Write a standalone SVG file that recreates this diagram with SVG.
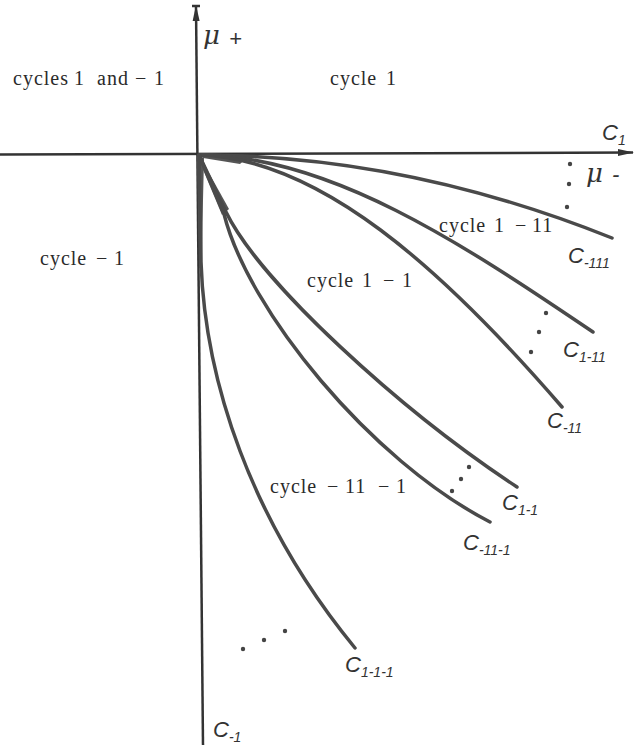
<svg xmlns="http://www.w3.org/2000/svg" width="635" height="745" viewBox="0 0 635 745">
<defs>
<marker id="arr" markerWidth="16" markerHeight="8" refX="15" refY="4" orient="auto" markerUnits="userSpaceOnUse"><path d="M0,0.5 L16,4 L0,7.5 Z" fill="#333"/></marker>
<style>
.ax{stroke:#333;stroke-width:2.5;fill:none}
.cv{stroke:#4a4a4a;stroke-width:3.5;fill:none;stroke-linecap:round;stroke-linejoin:round}
.wd{fill:#555}
.t{font-family:"Liberation Serif",serif;font-size:20px;fill:#2a2a2a;letter-spacing:1px}
.h{font-family:"Liberation Sans",sans-serif;font-style:italic;font-size:22px;fill:#333}
.s{font-size:14px}
.mu{font-family:"DejaVu Serif","Liberation Serif",serif;font-style:italic;font-size:26px;fill:#333}
.dot{fill:#444}
</style>
</defs>
<rect width="635" height="745" fill="#fff"/>
<g id="axes">
<line class="ax" x1="0" y1="154.5" x2="633" y2="152.5" marker-end="url(#arr)"/>
<line class="ax" x1="203" y1="745" x2="196" y2="6" marker-end="url(#arr)"/>
<line class="ax" x1="192" y1="6" x2="200" y2="6" stroke-width="1.5"/>
</g>
<g id="connectors">
<polygon class="wd" points="199,153 250,155 240,164 203,158"/>
<polygon class="wd" points="199,155 229,209 222,215 199,160"/>
<polygon class="wd" points="197,155 204,158 203,200 202,268 199,268"/>
<path class="cv" d="M199,155 Q405,155 612,238"/>
<path class="cv" d="M199,155 C329,155 463,244 593,332"/>
<path class="cv" d="M199,155 C319,158 442,268 562,407"/>
<path class="cv" d="M199,155 L226,212 C260,282 400,410 517,487"/>
<path class="cv" d="M199,155 L224,214 C248,310 370,460 490,522"/>
<path class="cv" d="M199,155 L201,262 C205,380 250,520 355,648"/>
</g>
<g id="dots">
<circle class="dot" cx="570" cy="164" r="2.2"/><circle class="dot" cx="569" cy="184" r="2.2"/><circle class="dot" cx="567" cy="207" r="2.2"/>
<circle class="dot" cx="546" cy="313" r="2.2"/><circle class="dot" cx="539" cy="332" r="2.2"/><circle class="dot" cx="531" cy="352" r="2.2"/>
<circle class="dot" cx="469" cy="467" r="2.2"/><circle class="dot" cx="461" cy="479" r="2.2"/><circle class="dot" cx="452" cy="491" r="2.2"/>
<circle class="dot" cx="243" cy="649" r="2.2"/><circle class="dot" cx="264" cy="640" r="2.2"/><circle class="dot" cx="285" cy="631" r="2.2"/>
</g>
<g id="region-cycles-1-and-m1"><text class="t" y="85"><tspan x="13">cycles</tspan><tspan x="74">1</tspan><tspan x="97">and</tspan><tspan x="135">−</tspan><tspan x="154">1</tspan></text></g>
<g id="region-cycle-1"><text class="t" y="85"><tspan x="330">cycle</tspan><tspan x="386">1</tspan></text></g>
<g id="region-cycle-m1"><text class="t" y="265"><tspan x="40">cycle</tspan><tspan x="96">−</tspan><tspan x="114">1</tspan></text></g>
<g id="region-cycle-1-m11"><text class="t" y="232"><tspan x="439">cycle</tspan><tspan x="494">1</tspan><tspan x="515">−</tspan><tspan x="532">11</tspan></text></g>
<g id="region-cycle-1-m1"><text class="t" y="287"><tspan x="307">cycle</tspan><tspan x="362">1</tspan><tspan x="383">−</tspan><tspan x="402">1</tspan></text></g>
<g id="region-cycle-m11-m1"><text class="t" y="493"><tspan x="270">cycle</tspan><tspan x="327">−</tspan><tspan x="345">11</tspan><tspan x="378">−</tspan><tspan x="396">1</tspan></text></g>
<g id="label-mu-plus"><text class="mu" x="203" y="44">μ</text><text class="h" x="229" y="46" font-size="18">+</text></g>
<g id="label-C1"><text class="h" x="602" y="140">C<tspan class="s" dy="5">1</tspan></text></g>
<g id="label-mu-minus"><text class="mu" x="586" y="182">μ</text><text class="h" x="612" y="182" font-size="18">-</text></g>
<g id="label-C-111"><text class="h" x="568" y="263">C<tspan class="s" dy="5">-111</tspan></text></g>
<g id="label-C1-11"><text class="h" x="563" y="357">C<tspan class="s" dy="5">1-11</tspan></text></g>
<g id="label-C-11"><text class="h" x="547" y="428">C<tspan class="s" dy="5">-11</tspan></text></g>
<g id="label-C1-1"><text class="h" x="502" y="510">C<tspan class="s" dy="5">1-1</tspan></text></g>
<g id="label-C-11-1"><text class="h" x="463" y="550">C<tspan class="s" dy="5">-11-1</tspan></text></g>
<g id="label-C1-1-1"><text class="h" x="345" y="672">C<tspan class="s" dy="5">1-1-1</tspan></text></g>
<g id="label-C-1"><text class="h" x="213" y="737">C<tspan class="s" dy="5">-1</tspan></text></g>
</svg>
